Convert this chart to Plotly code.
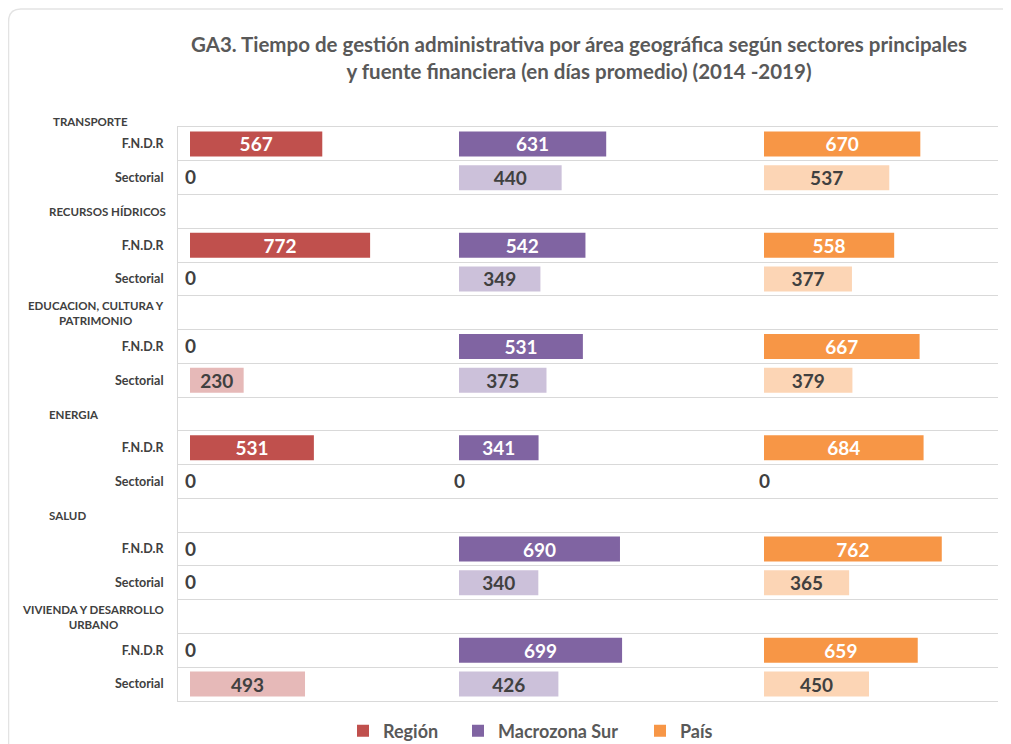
import plotly.graph_objects as go
from plotly.subplots import make_subplots

# ---------------- data ----------------
sectors = ["TRANSPORTE", "RECURSOS HÍDRICOS", "EDUCACION, CULTURA Y<br>PATRIMONIO",
           "ENERGIA", "SALUD", "VIVIENDA Y DESARROLLO<br>URBANO"]
sources = ["F.N.D.R", "Sectorial"]
areas = ["Región", "Macrozona Sur", "País"]

region_fndr = [567, 772, 0, 531, 0, 0]
region_sect = [0, 0, 230, 0, 0, 493]
macro_fndr = [631, 542, 531, 341, 690, 699]
macro_sect = [440, 349, 375, 0, 340, 426]
pais_fndr = [670, 558, 667, 684, 762, 659]
pais_sect = [537, 377, 379, 0, 365, 450]

title_text = ("GA3. Tiempo de gestión administrativa por área geográfica según sectores principales"
              "<br>y fuente financiera (en días promedio) (2014 -2019)")

# ---------------- styling ----------------
dark_colors = ["#C0504D", "#8064A2", "#F79646"]
light_colors = ["#E6B9B8", "#CCC1DA", "#FCD5B5"]
FONT = "Lato"
TXT = "#404040"
GRID = "#D9D9D9"

# the page body has an 8px margin: work in screen pixels and shift
OFF = 8
W, H = 1011 - OFF, 744 - OFF
PL, PR, PT, PB = 178, 998, 127, 701          # plot area in screen px
L, R, T, B = PL - OFF, W - (PR - OFF), PT - OFF, H - (PB - OFF)
plot_w = W - L - R
plot_h = H - T - B

# row ids (first header row sits above the plot area)
row_ids, row_text, header_rows = [], [], []
fndr_ids, sect_ids = [], []
for i, s in enumerate(sectors):
    if i > 0:
        hid = f"H{i}"
        row_ids.append(hid)
        row_text.append("")
        header_rows.append((hid, s))
    f_id, s_id = f"S{i}|F", f"S{i}|S"
    row_ids += [f_id, s_id]
    row_text += sources
    fndr_ids.append(f_id)
    sect_ids.append(s_id)

series = [(region_fndr, region_sect), (macro_fndr, macro_sect), (pais_fndr, pais_sect)]

# panel widths in px, scale px per day
panel_px = [269, 305, 246]
scale = 0.2333
left_pad_px = 12

fig = make_subplots(rows=1, cols=3, shared_yaxes=True, horizontal_spacing=0,
                    column_widths=panel_px)

annotations = []
legend_names = ["legend", "legend2", "legend3"]
for k, (fvals, svals) in enumerate(series):
    col = k + 1
    fig.add_trace(go.Bar(
        x=fvals, y=fndr_ids, orientation="h", name=areas[k],
        marker=dict(color=dark_colors[k], line=dict(width=0)),
        text=[str(v) if v > 0 else "" for v in fvals],
        textposition="inside", insidetextanchor="middle", textangle=0,
        constraintext="none",
        textfont=dict(family=FONT, size=19, color="white", weight="bold"),
        legend=legend_names[k], showlegend=True, hoverinfo="skip",
    ), row=1, col=col)
    fig.add_trace(go.Bar(
        x=svals, y=sect_ids, orientation="h", name=areas[k],
        marker=dict(color=light_colors[k], line=dict(width=0)),
        text=[str(v) if v > 0 else "" for v in svals],
        textposition="inside", insidetextanchor="middle", textangle=0,
        constraintext="none",
        textfont=dict(family=FONT, size=19, color=TXT, weight="bold"),
        showlegend=False, hoverinfo="skip",
    ), row=1, col=col)
    # zero labels (drawn at value 0 of the panel axis)
    xref = "x" if col == 1 else f"x{col}"
    for rid, v in list(zip(fndr_ids, fvals)) + list(zip(sect_ids, svals)):
        if v == 0:
            annotations.append(dict(
                text=str(v), xref=xref, yref="y", x=v, y=rid,
                xanchor="center", yanchor="middle", yshift=1, showarrow=False,
                font=dict(family=FONT, size=19, color=TXT, weight="bold")))

for k in range(3):
    lo = -left_pad_px / scale
    hi = lo + panel_px[k] / scale
    fig.update_xaxes(range=[lo, hi], showgrid=False, zeroline=False,
                     showticklabels=False, ticks="", showline=True,
                     linecolor=GRID, linewidth=1, mirror=True, row=1, col=k + 1)

fig.update_yaxes(type="category", categoryorder="array", categoryarray=row_ids,
                 autorange="reversed", tickson="boundaries",
                 showgrid=True, gridcolor=GRID, gridwidth=1, zeroline=False,
                 ticks="")
fig.update_yaxes(tickmode="array", tickvals=row_ids, ticktext=row_text,
                 showline=True, linecolor=GRID, linewidth=1,
                 ticklabelstandoff=11,
                 tickfont=dict(family=FONT, size=12.5, color=TXT, weight="bold"),
                 row=1, col=1)


def px_x(px):
    """screen px -> paper x"""
    return (px - PL) / plot_w


def px_y(py):
    """screen px -> paper y"""
    return (PB - py) / plot_h


annotations.append(dict(text=sectors[0], xref="paper", yref="paper",
                        x=px_x(51), y=px_y(122), xanchor="left", yanchor="middle",
                        showarrow=False,
                        font=dict(family=FONT, size=11.5, color=TXT, weight="bold")))
for hid, s in header_rows:
    two = "<br>" in s
    annotations.append(dict(
        text=s, xref="paper", yref="y", x=px_x(166) if two else px_x(47), y=hid,
        xanchor="right" if two else "left", yanchor="middle", align="center",
        showarrow=False,
        font=dict(family=FONT, size=11.5, color=TXT, weight="bold")))

leg_font = dict(family=FONT, size=18, color="#595959", weight="bold")
leg_x = [383, 498, 680]   # screen px where legend text starts
legends = {}
for name, lx in zip(legend_names, leg_x):
    legends[name] = dict(orientation="h", xref="paper", yref="paper",
                         x=px_x(lx - 40), y=px_y(731), xanchor="left", yanchor="middle",
                         font=leg_font, itemwidth=30, bgcolor="rgba(0,0,0,0)")

fig.update_layout(
    width=W, height=H,
    margin=dict(l=L, r=R, t=T, b=B, autoexpand=False),
    paper_bgcolor="white", plot_bgcolor="white",
    barmode="overlay", bargap=0.26,
    font=dict(family=FONT, color=TXT),
    title=dict(text=title_text, xref="container", yref="container",
               x=(579 - OFF) / W, y=1 - (52 - OFF) / H, xanchor="center", yanchor="middle",
               font=dict(family=FONT, size=20.5, color="#595959", weight="bold")),
    annotations=annotations,
    shapes=[dict(type="path", xref="paper", yref="paper",
                 path=f"M {px_x(8.5)},{px_y(760)} L {px_x(8.5)},{px_y(22)} "
                      f"Q {px_x(8.5)},{px_y(9)} {px_x(21)},{px_y(9)} L {px_x(1030)},{px_y(9)}",
                 line=dict(color="#E3E3E3", width=1.5), layer="below")],
    **legends,
)

fig.write_html("out.html")
